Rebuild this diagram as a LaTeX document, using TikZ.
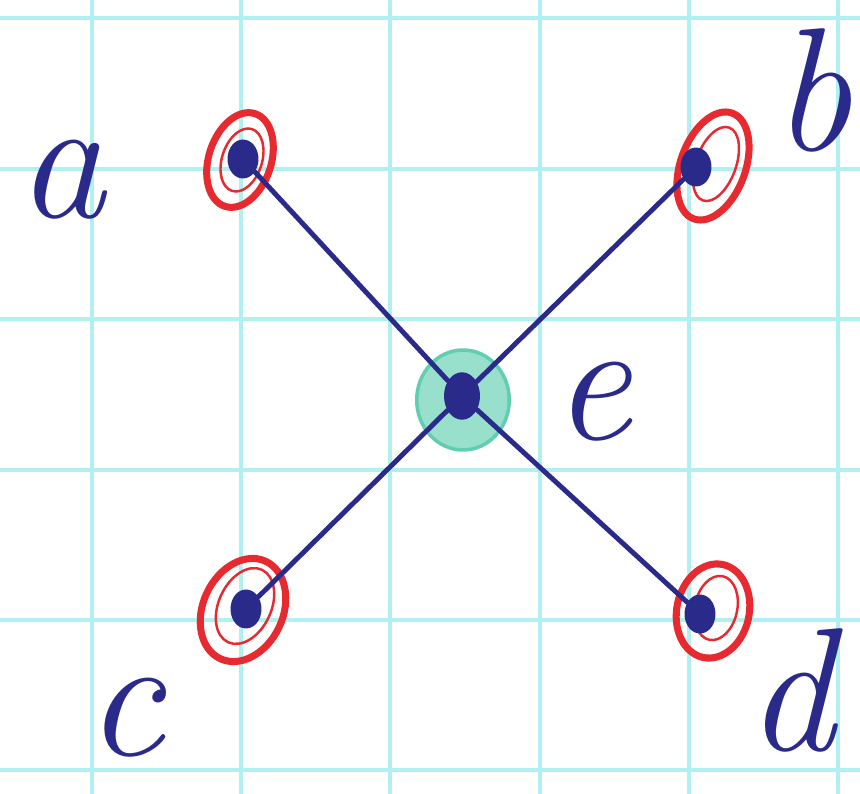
\documentclass[tikz,border=0pt]{standalone}
\usetikzlibrary{shapes.geometric}

\definecolor{ink}{RGB}{42,42,138}
\definecolor{redpen}{RGB}{230,42,48}
\definecolor{greenpen}{RGB}{96,206,176}
\definecolor{gridcyan}{RGB}{176,240,240}

\tikzset{
  vtx/.style={ellipse, fill=ink, inner sep=0pt, minimum width=0.62cm, minimum height=0.78cm},
  ring/.style={ellipse, draw=redpen, line width=4pt, inner sep=0pt},
  innerring/.style={ellipse, draw=redpen, line width=1.4pt, inner sep=0pt},
  edge/.style={draw=ink, line width=2.8pt, line cap=round},
  lbl/.style={text=ink, inner sep=0pt, font=\fontsize{100}{100}\selectfont\itshape}
}

\begin{document}
\begin{tikzpicture}[x=0.02cm, y=-0.02cm]
  \useasboundingbox (0,0) rectangle (860,794);
  \fill[white] (0,0) rectangle (860,794);

  % squared paper
  \foreach \gx in {92,241,390,540,689,838}
    \draw[gridcyan, line width=2pt] (\gx,0) -- (\gx,794);
  \foreach \gy in {18,169,319,470,620,770}
    \draw[gridcyan, line width=2pt] (0,\gy) -- (860,\gy);

  % red rings round the outer vertices
  \node[ring, minimum width=1.25cm, minimum height=1.95cm, rotate=-18] (ra) at (240,160) {};
  \node[innerring, minimum width=0.8cm, minimum height=1.3cm, rotate=-18] at (242,160) {};
  \node[ring, minimum width=1.3cm, minimum height=2.25cm, rotate=-20] (rb) at (713,166) {};
  \node[innerring, minimum width=0.8cm, minimum height=1.55cm, rotate=-20] at (716,164) {};
  \node[ring, minimum width=1.6cm, minimum height=2.15cm, rotate=-25] (rc) at (243,610) {};
  \node[innerring, minimum width=1.05cm, minimum height=1.6cm, rotate=-25] at (245,606) {};
  \node[ring, minimum width=1.45cm, minimum height=1.9cm, rotate=-12] (rd) at (713,611) {};
  \node[innerring, minimum width=0.85cm, minimum height=1.3cm, rotate=-12] at (716,608) {};

  % green blob round the centre
  \node[ellipse, fill=greenpen!65, draw=greenpen, line width=2pt, minimum width=1.85cm, minimum height=2cm] (blob) at (463,400) {};

  % vertices
  \node[vtx] (a) at (243,159) {};
  \node[vtx] (b) at (696,167) {};
  \node[vtx] (c) at (246,609) {};
  \node[vtx] (d) at (700,614) {};
  \node[vtx, minimum width=0.72cm, minimum height=0.95cm] (e) at (462,396) {};

  % edges
  \draw[edge] (a) -- (e);
  \draw[edge] (b) -- (e);
  \draw[edge] (c) -- (e);
  \draw[edge] (d) -- (e);

  % labels
  \node[lbl] (la) at (61,180) {a};
  \node[lbl] (lb) at (812,90) {b};
  \node[lbl] (lc) at (125,718) {c};
  \node[lbl] (ld) at (790,690) {d};
  \node[lbl] (le) at (592,402) {e};
\end{tikzpicture}
\end{document}
